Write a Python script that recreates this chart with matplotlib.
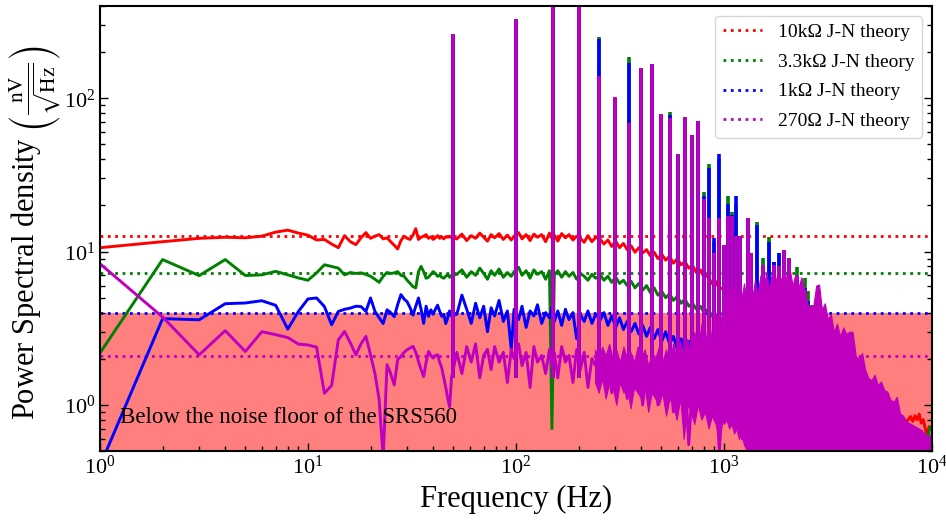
import numpy as np
import matplotlib
matplotlib.use("Agg")
import matplotlib.pyplot as plt

plt.rcParams['font.family'] = 'serif'
plt.rcParams['font.serif'] = ['Liberation Serif', 'DejaVu Serif']
plt.rcParams['mathtext.fontset'] = 'stix'

# --- measured spectra (nV/sqrt(Hz)) ---
# 1 Hz bins below the mains line
lo_freq = np.arange(1, 50)
red_lo = [10.6, 11.6, 12.2, 12.4, 12.3, 12.6, 13.4, 13.8, 13.2, 12.8,
          11.9, 12.0, 11.2, 10.6, 12.7, 11.6, 11.1, 12.3, 13.3, 12.2,
          12.6, 12.9, 12.1, 12.3, 11.6, 11.0, 10.4, 11.8, 12.6, 12.2,
          12.0, 12.8, 14.1, 12.0, 12.4, 12.6, 12.9, 12.2, 12.5, 12.0,
          12.3, 12.7, 12.2, 12.5, 12.1, 12.5, 12.4, 12.6, 12.3]
green_lo = [2.18, 8.87, 6.97, 8.87, 6.98, 7.05, 7.43, 7.05, 6.73, 6.5,
            7.26, 8.2, 8.0, 7.8, 7.05, 7.3, 7.2, 7.26, 7.1, 6.9,
            6.6, 6.3, 6.9, 7.3, 7.2, 7.26, 7.4, 7.0, 6.9, 6.5,
            6.2, 5.9, 5.8, 7.4, 8.0, 7.4, 6.7, 6.8, 7.1, 7.4,
            7.2, 6.9, 7.0, 6.8, 6.7, 6.9, 7.1, 6.8, 7.0]
blue_lo = [0.4, 3.65, 3.59, 4.57, 4.62, 4.78, 4.46, 3.12, 4.07, 4.91,
           4.98, 4.38, 3.33, 4.07, 4.2, 4.28, 4.4, 4.38, 4.07, 4.98,
           4.07, 3.7, 3.39, 4.17, 4.0, 3.76, 4.5, 5.24, 4.9, 4.7,
           4.3, 3.85, 4.4, 4.98, 4.2, 3.4, 4.4, 3.78, 4.17, 3.9,
           4.2, 4.47, 4.07, 3.78, 3.9, 3.39, 3.7, 4.1, 3.8]
magenta_lo = [8.33, 3.74, 2.12, 3.05, 2.23, 3.0, 2.87, 2.75, 2.49, 2.46,
              2.38, 1.19, 1.34, 2.66, 3.01, 2.53, 2.12, 2.5, 2.8, 2.12,
              1.6, 1.08, 0.45, 1.83, 1.6, 1.35, 1.97, 2.07, 2.2, 2.29,
              2.35, 2.41, 2.2, 1.92, 1.7, 1.53, 1.9, 2.23, 2.1, 2.02,
              2.1, 2.12, 1.9, 1.74, 1.5, 1.3, 1.1, 0.97, 1.5]

# between the mains harmonics
mid_freq = [52, 55, 58, 61, 64, 67, 70, 73, 76, 79, 83, 87, 91, 95,
            98, 103, 107, 112, 117, 122, 127, 133, 139, 145, 149,
            153, 159, 166, 173, 180, 188, 196, 204, 213, 222, 232, 242,
            255, 265, 277, 289, 302, 315, 329, 343, 358, 374, 390, 407, 425, 443,
            462, 482, 503, 525, 548, 572, 597, 623, 650, 678, 707, 738,
            770, 803, 838, 874, 912, 951, 992, 1035, 1080, 1127, 1176, 1227]
red_mid = [12.1, 13.0, 11.8, 12.7, 12.2, 13.2, 12.4, 11.7, 12.9, 12.3, 13.1, 12.0, 12.8, 11.9,
           12.6, 13.3, 12.1, 12.9, 11.8, 13.0, 12.4, 12.9, 11.6, 13.2, 12.2,
           12.8, 11.7, 13.1, 12.3, 12.9, 11.9, 12.6, 12.2, 11.5, 12.7, 11.6, 12.4,
           12.0, 11.2, 11.9, 10.8, 11.7, 10.6, 11.3, 10.3, 10.9, 9.9, 10.6, 9.8, 10.3, 9.4,
           9.9, 9.0, 9.6, 8.8, 9.3, 8.4, 9.0, 8.2, 8.6, 7.8, 8.1, 7.3,
           7.6, 6.8, 7.0, 6.2, 6.4, 5.7, 5.8, 5.2, 5.0, 4.6, 4.4, 4.0]
green_mid = [7.1, 7.6, 6.8, 7.4, 7.0, 7.8, 7.2, 6.6, 7.5, 7.0, 7.7, 6.8, 7.3, 6.9,
             7.4, 7.9, 7.0, 7.5, 6.7, 7.6, 7.1, 7.4, 6.6, 7.5, 0.7,
             7.0, 7.5, 6.8, 7.4, 6.9, 7.3, 6.6, 7.2, 6.9, 6.5, 7.1, 6.7,
             7.0, 6.5, 6.9, 6.3, 6.8, 6.2, 6.5, 6.0, 6.4, 5.8, 6.2, 5.6, 6.0, 5.4,
             5.8, 5.2, 5.5, 5.0, 5.3, 4.8, 5.1, 4.6, 4.9, 4.4, 4.6, 4.2,
             4.4, 4.0, 4.2, 3.8, 3.9, 3.5, 3.6, 3.2, 3.3, 2.9, 3.0, 2.7]
blue_mid = [3.9, 5.2, 4.2, 3.4, 4.6, 3.7, 4.4, 3.0, 4.3, 3.8, 4.8, 3.5, 4.1, 2.3,
            4.2, 3.6, 4.4, 3.2, 4.1, 3.8, 4.5, 3.4, 4.0, 3.7, 4.3,
            3.5, 4.1, 3.3, 4.2, 3.6, 4.0, 2.7, 3.9, 3.5, 4.1, 3.4, 3.9,
            3.6, 4.0, 3.3, 3.8, 3.2, 3.7, 3.1, 3.5, 3.0, 3.4, 2.9, 3.3, 2.8, 3.2,
            2.7, 3.1, 2.6, 3.0, 2.5, 2.8, 2.3, 2.7, 2.2, 2.6, 2.1, 2.4,
            2.0, 2.3, 1.9, 2.1, 1.8, 2.0, 1.6, 1.8, 1.5, 1.7, 1.4, 1.5]
magenta_mid = [2.2, 1.6, 2.4, 1.9, 2.5, 1.5, 2.1, 2.3, 1.7, 2.4, 1.9, 2.2, 1.4, 2.3,
               2.0, 2.5, 1.8, 2.2, 1.3, 2.4, 1.9, 2.1, 1.6, 2.3, 1.8,
               2.2, 1.5, 2.4, 1.9, 2.1, 1.4, 2.3, 1.7, 2.2, 1.3, 2.0, 1.8,
               2.1, 1.4, 1.9, 1.2, 2.0, 1.5, 1.8, 1.1, 1.9, 1.4, 1.7, 1.0, 1.8, 1.3,
               1.7, 1.0, 1.6, 1.2, 1.7, 0.9, 1.5, 1.1, 1.6, 0.55, 1.4, 1.0,
               1.5, 0.9, 1.3, 1.0, 1.4, 0.5, 1.2, 0.8, 1.1, 0.7, 1.0, 0.6]

# roll-off above 1.5 kHz
red_tail_freq = [1500, 2000, 3000, 4000, 5000, 6000, 7000, 7600, 7900, 8100,
                 8300, 8500, 8700, 8900, 9100, 9300, 9500, 9700, 10000]
red_tail = [3.5, 2.8, 2.0, 1.5, 1.2, 1.0, 0.82, 0.78, 0.84, 0.78,
            0.85, 0.8, 0.87, 0.76, 0.8, 0.7, 0.64, 0.72, 0.7]
gb_tail_freq = [1500, 2000, 3000, 4000, 5000, 6000, 7000, 8000, 9000, 9500, 9800, 10000]
green_tail = [2.4, 2.0, 1.6, 1.3, 1.0, 0.85, 0.75, 0.68, 0.64, 0.6, 0.72, 0.7]
blue_tail = [1.3, 1.1, 0.95, 0.85, 0.75, 0.7, 0.65, 0.6, 0.58, 0.55, 0.6, 0.62]

# mains harmonics
harm_freq = [50, 100, 150, 200, 250, 300, 350, 400, 450, 500, 550, 600, 650, 700,
             750, 800, 850, 900, 950, 1000, 1050, 1100, 1150, 1200, 1300, 1350,
             1450, 1550, 1650, 1750, 1850, 1950, 2050, 2250, 2450, 2550, 2650]
red_peak = [262, 328, 600, 600, 130, 100, 66, 155, 166, 77, 72, 42, 74, 56,
            70, 21, 16, 9.5, 16, 11, 16, 16, 12, 12, 16, 9.5,
            5.0, 8.0, 5.4, 8.0, 7.8, 10, 9.0, 6.8, 5.5, 4.2, 4.3]
green_peak = [262, 328, 600, 600, 251, 101, 186, 157, 168, 78.6, 81.6, 43, 76, 57.5,
              71.6, 24.5, 37, 11.5, 40, 11, 23, 18, 20, 12.6, 16.6, 9.8,
              15.5, 9.1, 12.4, 8.6, 9.8, 10.3, 9.1, 7.9, 6.7, 5.5, 4.5]
blue_peak = [262, 328, 600, 600, 245, 101, 170, 157, 168, 78.6, 78, 43, 76, 57.5,
             71.6, 23, 35, 12.3, 43, 11, 20.3, 17.4, 23, 12.6, 16.6, 9.8,
             15, 8.2, 11.6, 8.6, 9.8, 10.3, 9.1, 6.9, 5.8, 4.73, 4.4]
magenta_peak = [262, 328, 600, 600, 139, 102, 69, 157, 168, 78.6, 74, 43, 76, 57.5,
                71.6, 22, 16.6, 9.8, 16.6, 11, 17, 17, 12.6, 12.6, 16.6, 9.8,
                5.1, 8.2, 5.6, 8.2, 8.0, 10.3, 9.1, 6.9, 5.6, 4.3, 4.4]
spike_base = 1.5

# 270 ohm spur band, 240 Hz - 1.3 kHz (upper / lower edge)
band_freq = [240, 250, 260, 270, 281, 292, 304, 316, 329, 342,
             356, 370, 385, 400, 416, 433, 450, 468, 487, 506,
             527, 548, 570, 593, 617, 641, 667, 694, 721, 750,
             780, 811, 844, 877, 912, 949, 987,
             1000, 1030, 1060, 1090, 1120, 1150, 1180, 1210, 1250, 1290]
band_top = [2.3, 2.0, 2.4, 2.1, 2.5, 2.0, 2.3, 1.9, 2.4, 2.0,
            2.2, 1.9, 2.4, 2.0, 2.3, 1.8, 2.2, 2.0, 2.4, 1.9,
            2.3, 1.8, 2.5, 2.0, 2.6, 1.9, 2.7, 2.1, 3.0, 2.2,
            3.4, 2.4, 3.6, 2.6, 4.0, 2.8, 4.4,
            5.5, 4.2, 5.8, 4.5, 6.0, 4.4, 5.6, 4.8, 6.2, 4.6]
band_low = [1.4, 1.2, 1.5, 1.1, 1.4, 1.3, 1.0, 1.4, 1.2, 1.3,
            0.95, 1.3, 1.2, 1.1, 1.3, 0.9, 1.2, 1.1, 1.0, 1.2,
            0.85, 1.1, 1.0, 0.8, 1.1, 0.6, 1.0, 0.9, 0.75, 1.0,
            0.8, 0.9, 0.7, 0.85, 0.75, 0.6, 0.8,
            0.75, 0.8, 0.7, 0.75, 0.65, 0.7, 0.6, 0.65, 0.55, 0.5]

# dense spur forest above 1.3 kHz (upper envelope, fills to the bottom)
hf_freq = [1290, 1330, 1370, 1410, 1450, 1500, 1550, 1600, 1650, 1700, 1760,
           1820, 1880, 1940, 2000, 2070, 2140, 2210, 2280, 2360, 2440,
           2520, 2600, 2690, 2780, 2870, 2960, 3060, 3160, 3270, 3380,
           3500, 3620, 3750, 3880, 4020, 4160, 4310, 4460, 4620, 4780,
           4950, 5130, 5310, 5500, 5700, 5900, 6110, 6330, 6560, 6790,
           7030, 7280, 7540, 7810, 8090, 8380, 8680, 8990, 9310, 9640, 10000]
hf_top = [4.6, 6.0, 5.0, 6.5, 5.1, 7.0, 5.6, 7.4, 5.6, 7.2, 6.0,
          7.6, 6.4, 8.0, 6.5, 7.8, 6.0, 7.2, 5.8, 6.8, 5.6,
          4.6, 4.3, 4.4, 6.0, 6.1, 4.2, 4.6, 3.6, 3.9, 3.0,
          3.4, 2.8, 3.2, 2.9, 3.0, 3.0, 2.07, 2.0, 2.18, 1.7,
          1.5, 1.45, 1.57, 1.35, 1.42, 1.25, 1.22, 1.08, 1.05, 1.13,
          0.88, 0.85, 0.78, 0.76, 0.74, 0.72, 0.7, 0.68, 0.64, 0.62, 0.66]
mass_floor = 0.3

# Johnson-Nyquist predictions
theory_labels = ['10kΩ J-N theory', '3.3kΩ J-N theory', '1kΩ J-N theory', '270Ω J-N theory']
theory_nv = [12.7, 7.3, 4.0, 2.08]
colors = ['r', 'g', 'b', 'm']
noise_floor = 4.0

fig, ax = plt.subplots(figsize=(9.46, 5.22), dpi=100)
fig.subplots_adjust(left=0.1057, right=0.985, bottom=0.136, top=0.9885)

ax.axhspan(1e-3, noise_floor, color='red', alpha=0.5, lw=0, zorder=0.5)
for v, c, lab in zip(theory_nv, colors, theory_labels):
    ax.axhline(v, color=c, ls=':', lw=2, label=lab, zorder=1.5)

series = [
    (red_lo, red_mid, red_tail_freq, red_tail, red_peak, 'r'),
    (green_lo, green_mid, gb_tail_freq, green_tail, green_peak, 'g'),
    (blue_lo, blue_mid, gb_tail_freq, blue_tail, blue_peak, 'b'),
    (magenta_lo, magenta_mid, [], [], magenta_peak, 'm'),
]
for lo, mid, tf, tv, pk, c in series:
    f = np.concatenate([lo_freq, mid_freq, tf])
    v = np.concatenate([lo, mid, tv])
    ax.plot(f, v, color=c, lw=2.1, zorder=2)
    ax.vlines(harm_freq, spike_base, pk, color=c, lw=2.6, zorder=2)
    if c == 'm':
        ax.fill_between(band_freq, band_low, band_top, color=c, lw=0.8, zorder=2)
        ax.fill_between(hf_freq, mass_floor, hf_top, color=c, lw=0.8, zorder=2)

ax.set_xscale('log')
ax.set_yscale('log')
ax.set_xlim(1, 1e4)
ax.set_ylim(0.5, 400)

ax.text(0.024, 0.076, 'Below the noise floor of the SRS560', transform=ax.transAxes,
        fontsize=16.5, va='center', ha='left')

ax.set_xlabel('Frequency (Hz)', fontsize=22)
ax.set_ylabel(r'Power Spectral density $\left(\frac{\mathrm{nV}}{\sqrt{\mathrm{Hz}}}\right)$', fontsize=22)
ax.yaxis.set_label_coords(-0.043, 0.49)

ax.tick_params(which='both', direction='in', right=True, top=False, labelsize=16)
ax.tick_params(which='major', length=6, width=1)
ax.tick_params(which='minor', length=3.5, width=1)
for s in ax.spines.values():
    s.set_linewidth(1.5)

ax.legend(loc='upper right', fontsize=14, labelspacing=0.62)

fig.savefig('out.png', dpi=100)
